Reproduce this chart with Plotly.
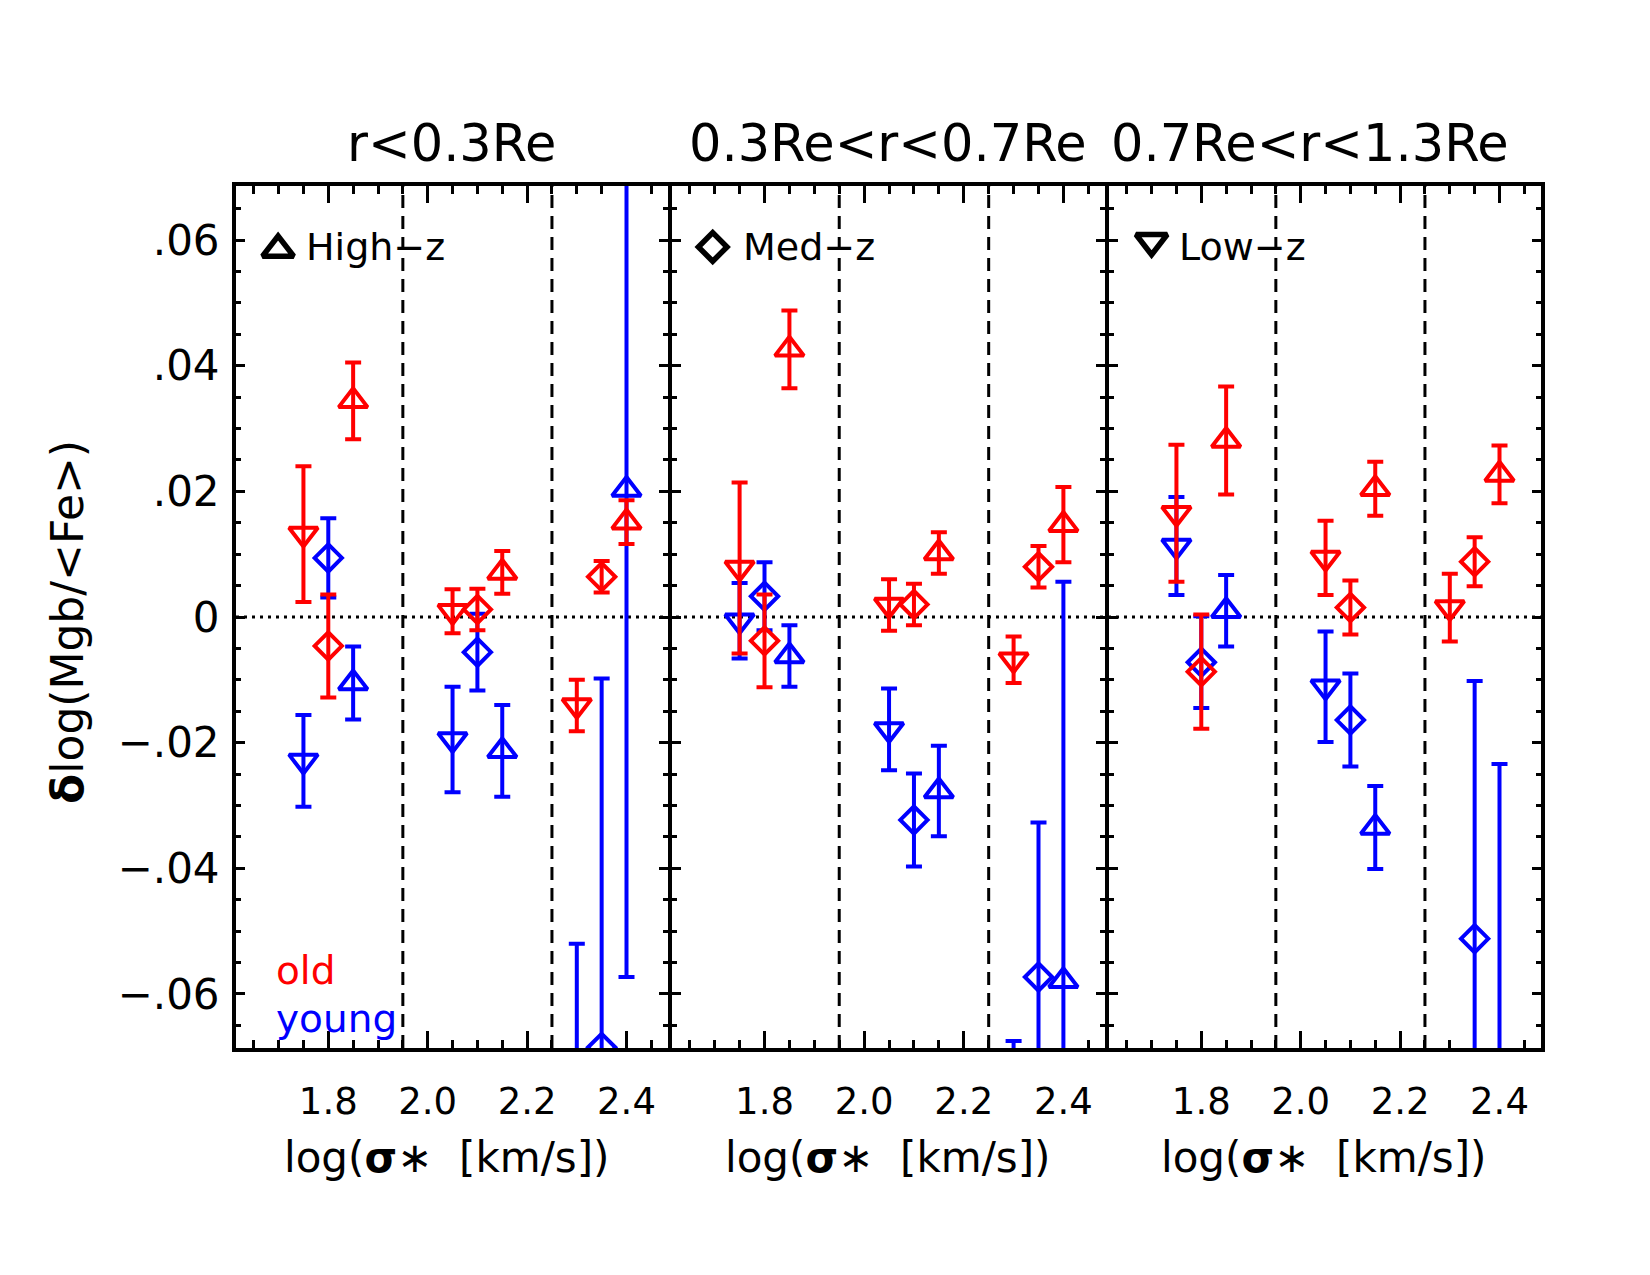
import plotly.graph_objects as go

# ---------------- data ----------------
panel_titles = ["r&lt;0.3Re", "0.3Re&lt;r&lt;0.7Re", "0.7Re&lt;r&lt;1.3Re"]
z_labels = ["High−z", "Med−z", "Low−z"]

x_high = [1.85, 2.15, 2.40]   # triangle-up
x_med = [1.80, 2.10, 2.35]    # diamond
x_low = [1.75, 2.05, 2.30]    # triangle-down

bin_edges = [1.95, 2.25]
x_ticks = [1.8, 2.0, 2.2, 2.4]
x_ticktext = ["1.8", "2.0", "2.2", "2.4"]
y_ticks = [-0.06, -0.04, -0.02, 0.0, 0.02, 0.04, 0.06]
y_ticktext = ["−.06", "−.04", "−.02", "0", ".02", ".04", ".06"]

# panel 1: r<0.3Re
p1_old_high = [0.0344, 0.0071, 0.0151]
p1_old_high_err = [0.0061, 0.0034, 0.0035]
p1_old_med = [-0.0046, 0.0012, 0.0064]
p1_old_med_err = [0.0082, 0.0033, 0.0025]
p1_old_low = [0.0132, 0.0009, -0.0141]
p1_old_low_err = [0.0108, 0.0035, 0.0041]
p1_young_high = [-0.0105, -0.0213, 0.0203]
p1_young_high_err = [0.0058, 0.0073, 0.0776]
p1_young_med = [0.0094, -0.0056, -0.0685]
p1_young_med_err = [0.0063, 0.0061, 0.0587]
p1_young_low = [-0.0229, -0.0195, -0.0850]
p1_young_low_err = [0.0073, 0.0084, 0.0330]

# panel 2: 0.3Re<r<0.7Re
p2_old_high = [0.0426, 0.0102, 0.0147]
p2_old_high_err = [0.0062, 0.0033, 0.0060]
p2_old_med = [-0.0038, 0.0020, 0.0080]
p2_old_med_err = [0.0074, 0.0033, 0.0033]
p2_old_low = [0.0078, 0.0019, -0.0068]
p2_old_low_err = [0.0136, 0.0041, 0.0037]
p2_young_high = [-0.0062, -0.0277, -0.0579]
p2_young_high_err = [0.0049, 0.0072, 0.0635]
p2_young_med = [0.0033, -0.0323, -0.0573]
p2_young_med_err = [0.0054, 0.0074, 0.0246]
p2_young_low = [-0.0006, -0.0179, -0.0900]
p2_young_low_err = [0.0060, 0.0065, 0.0225]

# panel 3: 0.7Re<r<1.3Re
p3_old_high = [0.0281, 0.0204, 0.0227]
p3_old_high_err = [0.0086, 0.0043, 0.0046]
p3_old_med = [-0.0087, 0.0015, 0.0088]
p3_old_med_err = [0.0091, 0.0043, 0.0039]
p3_old_low = [0.0165, 0.0094, 0.0015]
p3_old_low_err = [0.0109, 0.0059, 0.0054]
p3_young_high = [0.0010, -0.0335, -0.0850]
p3_young_high_err = [0.0057, 0.0066, 0.0616]
p3_young_med = [-0.0072, -0.0164, -0.0512]
p3_young_med_err = [0.0073, 0.0074, 0.0410]
p3_young_low = [0.0113, -0.0111, None]
p3_young_low_err = [0.0078, 0.0088, None]

panels = [
    dict(old=[(x_high, p1_old_high, p1_old_high_err), (x_med, p1_old_med, p1_old_med_err), (x_low, p1_old_low, p1_old_low_err)],
         young=[(x_high, p1_young_high, p1_young_high_err), (x_med, p1_young_med, p1_young_med_err), (x_low, p1_young_low, p1_young_low_err)]),
    dict(old=[(x_high, p2_old_high, p2_old_high_err), (x_med, p2_old_med, p2_old_med_err), (x_low, p2_old_low, p2_old_low_err)],
         young=[(x_high, p2_young_high, p2_young_high_err), (x_med, p2_young_med, p2_young_med_err), (x_low, p2_young_low, p2_young_low_err)]),
    dict(old=[(x_high, p3_old_high, p3_old_high_err), (x_med, p3_old_med, p3_old_med_err), (x_low, p3_old_low, p3_old_low_err)],
         young=[(x_high, p3_young_high, p3_young_high_err), (x_med, p3_young_med, p3_young_med_err), (x_low, p3_young_low, p3_young_low_err)]),
]

# ---------------- style ----------------
W, H = 1650, 1275
FONT = "DejaVu Sans"
RED = "#ff0000"
BLUE = "#0000ff"
symbols = ["triangle-up-open", "diamond-open", "triangle-down-open"]
sizes = [25, 21, 25]

x_domains = [[236 / W, 668 / W], [672 / W, 1105 / W], [1109 / W, 1541 / W]]
y_domain = [227 / H, 1089 / H]
x_range = [1.6143, 2.4835]
y_range = [-0.0686, 0.0686]

# legend-key placement (layout constants, in each panel's axis units)
key_x = [1.699, 1.696, 1.700]
key_y = [0.0585, 0.0589, 0.0598]
key_sizes = [27, 22, 27]

fig = go.Figure()

for i, p in enumerate(panels):
    xa = "x" if i == 0 else f"x{i+1}"
    ya = "y" if i == 0 else f"y{i+1}"
    for age, col in (("young", BLUE), ("old", RED)):
        for k, (xs, ys, es) in enumerate(p[age]):
            fig.add_trace(go.Scatter(
                x=xs, y=ys, xaxis=xa, yaxis=ya, mode="markers",
                marker=dict(symbol=symbols[k], size=sizes[k], color=col,
                            line=dict(color=col, width=4)),
                error_y=dict(type="data", array=es, visible=True, color=col,
                             thickness=4, width=8),
                showlegend=False, cliponaxis=True, hoverinfo="skip"))
    # legend key symbol for this panel's redshift group
    fig.add_trace(go.Scatter(
        x=[key_x[i]], y=[key_y[i]], xaxis=xa, yaxis=ya, mode="markers",
        marker=dict(symbol=symbols[i], size=key_sizes[i], color="black",
                    line=dict(color="black", width=5.5)),
        showlegend=False, hoverinfo="skip"))

common_x = dict(range=x_range, tickmode="array", tickvals=x_ticks, ticktext=x_ticktext,
                ticks="inside", ticklen=17, tickwidth=3, tickcolor="black",
                showline=True, linewidth=4, linecolor="black", mirror="ticks",
                showgrid=False, zeroline=False, layer="below traces",
                tickfont=dict(family=FONT, size=37, color="black"),
                ticklabelstandoff=18,
                minor=dict(tickmode="linear", tick0=1.6, dtick=0.05, ticks="inside",
                           ticklen=8, tickwidth=3, tickcolor="black", showgrid=False))
common_y = dict(range=y_range, tickmode="array", tickvals=y_ticks, ticktext=y_ticktext,
                ticks="inside", ticklen=9, tickwidth=3, tickcolor="black",
                showline=True, linewidth=4, linecolor="black", mirror="ticks",
                showgrid=False, zeroline=False, layer="below traces",
                tickfont=dict(family=FONT, size=42, color="black"),
                ticklabelstandoff=4,
                minor=dict(tickmode="linear", tick0=0.0, dtick=0.005, ticks="inside",
                           ticklen=5, tickwidth=3, tickcolor="black", showgrid=False))

layout = dict(width=W, height=H, margin=dict(l=0, r=0, t=0, b=0),
              paper_bgcolor="white", plot_bgcolor="white",
              font=dict(family=FONT, color="black"))
for i in range(3):
    xn = "xaxis" if i == 0 else f"xaxis{i+1}"
    yn = "yaxis" if i == 0 else f"yaxis{i+1}"
    layout[xn] = dict(common_x, domain=x_domains[i], anchor="y" if i == 0 else f"y{i+1}")
    layout[yn] = dict(common_y, domain=y_domain, anchor="x" if i == 0 else f"x{i+1}",
                      showticklabels=(i == 0))
fig.update_layout(**layout)

shapes = []
for i in range(3):
    xr = "x" if i == 0 else f"x{i+1}"
    yr = "y" if i == 0 else f"y{i+1}"
    for e in bin_edges:
        shapes.append(dict(type="line", xref=xr, yref=f"{yr} domain", x0=e, x1=e, y0=0, y1=1,
                           line=dict(color="black", width=3, dash="13px,8px"), layer="below"))
shapes.append(dict(type="line", xref="paper", yref="y", x0=x_domains[0][0], x1=x_domains[2][1],
                   y0=0, y1=0, line=dict(color="black", width=3, dash="3px,5px"), layer="below"))
fig.update_layout(shapes=shapes)

ann = []
title_cx = [451, 888, 1310]
xt_cx = [446, 887, 1323]
leg_x = [304, 741, 1177]
for i in range(3):
    ann.append(dict(text=panel_titles[i], xref="paper", yref="paper",
                    x=title_cx[i] / W, y=1 - 143 / H, xanchor="center", yanchor="middle",
                    showarrow=False, font=dict(family=FONT, size=51, color="black")))
    ann.append(dict(text="log(<b>σ</b>∗  [km/s])", xref="paper", yref="paper",
                    x=xt_cx[i] / W, y=1 - 1157 / H, xanchor="center", yanchor="middle",
                    showarrow=False, font=dict(family=FONT, size=42, color="black")))
    ann.append(dict(text=z_labels[i], xref="paper", yref="paper",
                    x=leg_x[i] / W, y=1 - 247 / H, xanchor="left", yanchor="middle",
                    showarrow=False, font=dict(family=FONT, size=38, color="black")))
ann.append(dict(text="<b>δ</b>log(Mgb/&lt;Fe&gt;)", xref="paper", yref="paper",
                x=68 / W, y=1 - 622 / H, xanchor="center", yanchor="middle", textangle=-90,
                showarrow=False, font=dict(family=FONT, size=44, color="black")))
ann.append(dict(text="old", xref="paper", yref="paper", x=274 / W, y=1 - 970 / H,
                xanchor="left", yanchor="middle", showarrow=False,
                font=dict(family=FONT, size=39, color=RED)))
ann.append(dict(text="young", xref="paper", yref="paper", x=274 / W, y=1 - 1018 / H,
                xanchor="left", yanchor="middle", showarrow=False,
                font=dict(family=FONT, size=39, color=BLUE)))
fig.update_layout(annotations=ann)

fig.write_html("out.html")
